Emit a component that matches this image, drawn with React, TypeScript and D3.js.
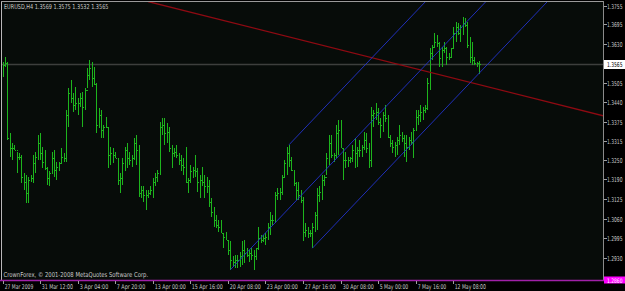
import React from 'react';
import * as d3 from 'd3';

const W = 625;
const H = 291;

// OHLC values (EURUSD, H4)
const opens = [
  1.3546, 1.3562, 1.3568, 1.3324, 1.3291, 1.3291, 1.3285, 1.3263, 1.3263, 1.3197,
  1.3181, 1.3143, 1.3186, 1.3192, 1.3242, 1.3263, 1.3307, 1.3275, 1.3246, 1.3225,
  1.3192, 1.3208, 1.3257, 1.3219, 1.3230, 1.3242, 1.3263, 1.3257, 1.3399, 1.3471,
  1.3455, 1.3432, 1.3438, 1.3438, 1.3455, 1.3426, 1.3481, 1.3530, 1.3553, 1.3519,
  1.3500, 1.3366, 1.3399, 1.3350, 1.3361, 1.3361, 1.3268, 1.3275, 1.3268, 1.3258,
  1.3186, 1.3192, 1.3242, 1.3285, 1.3257, 1.3252, 1.3257, 1.3307, 1.3285, 1.3143,
  1.3154, 1.3137, 1.3137, 1.3143, 1.3154, 1.3181, 1.3197, 1.3208, 1.3361, 1.3366,
  1.3339, 1.3344, 1.3291, 1.3275, 1.3279, 1.3268, 1.3252, 1.3235, 1.3230, 1.3181,
  1.3186, 1.3214, 1.3219, 1.3214, 1.3181, 1.3186, 1.3181, 1.3165, 1.3165, 1.3115,
  1.3083, 1.3056, 1.3039, 1.3034, 1.3012, 1.3001, 1.2990, 1.2958, 1.2925, 1.2918,
  1.2925, 1.2925, 1.2936, 1.2958, 1.2948, 1.2941, 1.2948, 1.2941, 1.2936, 1.2963,
  1.2996, 1.2990, 1.2996, 1.3001, 1.3034, 1.3056, 1.3056, 1.3137, 1.3143, 1.3148,
  1.3197, 1.3242, 1.3275, 1.3252, 1.3219, 1.3176, 1.3154, 1.3137, 1.3121, 1.3017,
  1.3023, 1.3012, 1.3012, 1.3034, 1.3072, 1.3137, 1.3148, 1.3186, 1.3197, 1.3257,
  1.3307, 1.3268, 1.3268, 1.3339, 1.3350, 1.3290, 1.3252, 1.3252, 1.3252, 1.3257,
  1.3285, 1.3275, 1.3285, 1.3285, 1.3295, 1.3317, 1.3291, 1.3252, 1.3399, 1.3405,
  1.3410, 1.3377, 1.3366, 1.3399, 1.3388, 1.3328, 1.3307, 1.3295, 1.3301, 1.3317,
  1.3334, 1.3323, 1.3307, 1.3295, 1.3317, 1.3312, 1.3350, 1.3393, 1.3399, 1.3410,
  1.3415, 1.3421, 1.3503, 1.3601, 1.3622, 1.3639, 1.3634, 1.3584, 1.3612, 1.3617,
  1.3590, 1.3590, 1.3617, 1.3666, 1.3688, 1.3666, 1.3688, 1.3699, 1.3693, 1.3628,
  1.3590, 1.3579, 1.3568, 1.3569,
];

const highs = [
  1.3573, 1.3590, 1.3573, 1.3340, 1.3308, 1.3301, 1.3279, 1.3275, 1.3268, 1.3209,
  1.3203, 1.3197, 1.3203, 1.3268, 1.3279, 1.3334, 1.3340, 1.3295, 1.3285, 1.3230,
  1.3214, 1.3279, 1.3285, 1.3246, 1.3246, 1.3291, 1.3275, 1.3415, 1.3487, 1.3513,
  1.3471, 1.3491, 1.3455, 1.3471, 1.3475, 1.3487, 1.3553, 1.3579, 1.3573, 1.3557,
  1.3503, 1.3422, 1.3415, 1.3366, 1.3393, 1.3361, 1.3295, 1.3291, 1.3279, 1.3258,
  1.3209, 1.3258, 1.3295, 1.3307, 1.3279, 1.3268, 1.3324, 1.3334, 1.3301, 1.3165,
  1.3165, 1.3154, 1.3154, 1.3165, 1.3192, 1.3208, 1.3219, 1.3377, 1.3388, 1.3388,
  1.3372, 1.3361, 1.3301, 1.3291, 1.3301, 1.3275, 1.3268, 1.3258, 1.3295, 1.3192,
  1.3235, 1.3230, 1.3268, 1.3225, 1.3203, 1.3230, 1.3203, 1.3197, 1.3186, 1.3127,
  1.3099, 1.3072, 1.3056, 1.3056, 1.3012, 1.3017, 1.2985, 1.2985, 1.2936, 1.2941,
  1.2941, 1.2952, 1.2985, 1.2990, 1.2964, 1.2958, 1.2964, 1.2958, 1.2964, 1.3034,
  1.3007, 1.3007, 1.3013, 1.3045, 1.3083, 1.3072, 1.3148, 1.3159, 1.3159, 1.3203,
  1.3252, 1.3295, 1.3301, 1.3263, 1.3219, 1.3181, 1.3181, 1.3154, 1.3132, 1.3045,
  1.3034, 1.3023, 1.3045, 1.3083, 1.3159, 1.3165, 1.3203, 1.3203, 1.3274, 1.3334,
  1.3334, 1.3275, 1.3366, 1.3383, 1.3383, 1.3290, 1.3279, 1.3263, 1.3263, 1.3301,
  1.3324, 1.3295, 1.3317, 1.3301, 1.3344, 1.3339, 1.3307, 1.3426, 1.3415, 1.3437,
  1.3421, 1.3388, 1.3410, 1.3432, 1.3399, 1.3334, 1.3317, 1.3312, 1.3328, 1.3366,
  1.3344, 1.3334, 1.3334, 1.3328, 1.3344, 1.3355, 1.3415, 1.3415, 1.3432, 1.3426,
  1.3432, 1.3519, 1.3617, 1.3628, 1.3666, 1.3661, 1.3639, 1.3622, 1.3639, 1.3622,
  1.3601, 1.3617, 1.3688, 1.3704, 1.3699, 1.3693, 1.3720, 1.3715, 1.3704, 1.3655,
  1.3639, 1.3590, 1.3573, 1.3575,
];

const lows = [
  1.3524, 1.3557, 1.3317, 1.3262, 1.3252, 1.3285, 1.3209, 1.3252, 1.3177, 1.3154,
  1.3112, 1.3112, 1.3181, 1.3177, 1.3208, 1.3252, 1.3252, 1.3225, 1.3219, 1.3170,
  1.3165, 1.3208, 1.3197, 1.3186, 1.3214, 1.3242, 1.3246, 1.3246, 1.3361, 1.3438,
  1.3410, 1.3415, 1.3399, 1.3426, 1.3361, 1.3415, 1.3487, 1.3513, 1.3491, 1.3497,
  1.3340, 1.3356, 1.3324, 1.3324, 1.3355, 1.3225, 1.3235, 1.3242, 1.3257, 1.3170,
  1.3143, 1.3170, 1.3214, 1.3226, 1.3235, 1.3230, 1.3252, 1.3235, 1.3132, 1.3127,
  1.3115, 1.3088, 1.3128, 1.3137, 1.3127, 1.3165, 1.3181, 1.3203, 1.3334, 1.3301,
  1.3306, 1.3279, 1.3225, 1.3263, 1.3257, 1.3235, 1.3214, 1.3203, 1.3176, 1.3143,
  1.3176, 1.3192, 1.3197, 1.3148, 1.3127, 1.3165, 1.3127, 1.3143, 1.3099, 1.3066,
  1.3034, 1.3029, 1.3017, 1.3012, 1.2963, 1.2990, 1.2941, 1.2892, 1.2903, 1.2898,
  1.2899, 1.2903, 1.2908, 1.2915, 1.2935, 1.2918, 1.2925, 1.2892, 1.2925, 1.2958,
  1.2980, 1.2984, 1.2974, 1.2990, 1.3007, 1.3039, 1.3045, 1.3121, 1.3121, 1.3137,
  1.3197, 1.3203, 1.3230, 1.3214, 1.3165, 1.3121, 1.3121, 1.3110, 1.2985, 1.3001,
  1.2996, 1.3001, 1.2963, 1.3017, 1.3023, 1.3115, 1.3121, 1.3165, 1.3203, 1.3235,
  1.3257, 1.3246, 1.3257, 1.3268, 1.3290, 1.3186, 1.3225, 1.3230, 1.3241, 1.3246,
  1.3225, 1.3230, 1.3263, 1.3263, 1.3285, 1.3274, 1.3225, 1.3230, 1.3361, 1.3383,
  1.3366, 1.3323, 1.3344, 1.3377, 1.3323, 1.3295, 1.3274, 1.3263, 1.3268, 1.3301,
  1.3312, 1.3263, 1.3246, 1.3285, 1.3301, 1.3257, 1.3350, 1.3366, 1.3377, 1.3383,
  1.3405, 1.3415, 1.3481, 1.3579, 1.3617, 1.3622, 1.3557, 1.3557, 1.3601, 1.3562,
  1.3579, 1.3584, 1.3617, 1.3639, 1.3661, 1.3639, 1.3661, 1.3688, 1.3617, 1.3568,
  1.3562, 1.3562, 1.3557, 1.3532,
];

const closes = [
  1.3562, 1.3568, 1.3324, 1.3291, 1.3291, 1.3285, 1.3263, 1.3263, 1.3197, 1.3181,
  1.3143, 1.3186, 1.3192, 1.3242, 1.3263, 1.3307, 1.3275, 1.3246, 1.3225, 1.3192,
  1.3208, 1.3257, 1.3219, 1.3230, 1.3242, 1.3263, 1.3257, 1.3399, 1.3471, 1.3455,
  1.3432, 1.3438, 1.3438, 1.3455, 1.3426, 1.3481, 1.3530, 1.3553, 1.3519, 1.3500,
  1.3366, 1.3399, 1.3350, 1.3361, 1.3361, 1.3268, 1.3275, 1.3268, 1.3258, 1.3186,
  1.3192, 1.3242, 1.3285, 1.3257, 1.3252, 1.3257, 1.3307, 1.3285, 1.3143, 1.3154,
  1.3137, 1.3137, 1.3143, 1.3154, 1.3181, 1.3197, 1.3208, 1.3361, 1.3366, 1.3339,
  1.3344, 1.3291, 1.3275, 1.3279, 1.3268, 1.3252, 1.3235, 1.3230, 1.3181, 1.3186,
  1.3214, 1.3219, 1.3214, 1.3181, 1.3186, 1.3181, 1.3165, 1.3165, 1.3115, 1.3083,
  1.3056, 1.3039, 1.3034, 1.3012, 1.3001, 1.2990, 1.2958, 1.2925, 1.2918, 1.2925,
  1.2925, 1.2936, 1.2958, 1.2948, 1.2941, 1.2948, 1.2941, 1.2936, 1.2963, 1.2996,
  1.2990, 1.2996, 1.3001, 1.3034, 1.3056, 1.3056, 1.3137, 1.3143, 1.3148, 1.3197,
  1.3242, 1.3275, 1.3252, 1.3219, 1.3176, 1.3154, 1.3137, 1.3121, 1.3017, 1.3023,
  1.3012, 1.3012, 1.3034, 1.3072, 1.3137, 1.3148, 1.3186, 1.3197, 1.3257, 1.3307,
  1.3268, 1.3268, 1.3339, 1.3350, 1.3290, 1.3252, 1.3252, 1.3252, 1.3257, 1.3285,
  1.3275, 1.3285, 1.3285, 1.3295, 1.3317, 1.3291, 1.3252, 1.3399, 1.3405, 1.3410,
  1.3377, 1.3366, 1.3399, 1.3388, 1.3328, 1.3307, 1.3295, 1.3301, 1.3317, 1.3334,
  1.3323, 1.3307, 1.3295, 1.3317, 1.3312, 1.3350, 1.3393, 1.3399, 1.3410, 1.3415,
  1.3421, 1.3503, 1.3601, 1.3622, 1.3639, 1.3634, 1.3584, 1.3612, 1.3617, 1.3590,
  1.3590, 1.3617, 1.3666, 1.3688, 1.3666, 1.3688, 1.3699, 1.3693, 1.3628, 1.3590,
  1.3579, 1.3568, 1.3569, 1.3565,
];

const timeLabels = [
  '27 Mar 2009', '31 Mar 12:00', '3 Apr 04:00', '7 Apr 20:00', '13 Apr 00:00',
  '15 Apr 16:00', '20 Apr 08:00', '23 Apr 00:00', '27 Apr 16:00', '30 Apr 08:00',
  '5 May 00:00', '7 May 16:00', '12 May 08:00',
];
const barsPerTimeLabel = 16;

const priceTicks = [
  1.3755, 1.3695, 1.363, 1.3505, 1.344, 1.3375, 1.3315, 1.325, 1.319, 1.3125,
  1.306, 1.2995, 1.293,
];
const currentPrice = 1.3565;
const bottomLinePrice = 1.286;

const headerText = 'EURUSD,H4  1.3569 1.3575 1.3532 1.3565';
const footerText = 'CrownForex, \u00a9 2001-2008 MetaQuotes Software Corp.';

// drawn objects (bar index, price)
const trendLine = [
  { i: 62, p: 1.377 },
  { i: 200, p: 1.3504 },
];
const channelMid = [
  { i: 97, p: 1.2892 },
  { i: 180, p: 1.3561 },
];
const channelUpperStart = { i: 122, p: 1.3301 };
const channelLowerStart = { i: 132, p: 1.2963 };

const PL = 1;
const PT = 1;
const PR = 603;
const PB = 280;
const VISIBLE_BARS = 256;
const FONT = "'DejaVu Sans', sans-serif";

let measureCtx: CanvasRenderingContext2D | null = null;
function measure(text: string, size: number): number {
  if (!measureCtx && typeof document !== 'undefined') {
    measureCtx = document.createElement('canvas').getContext('2d');
  }
  if (!measureCtx) return text.length * size * 0.6;
  measureCtx.font = `${size}px 'DejaVu Sans'`;
  return measureCtx.measureText(text).width;
}

function FitText(props: { x: number; y: number; w: number; size: number; fill: string; text: string }) {
  const { x, y, w, size, fill, text } = props;
  const nat = measure(text, size);
  const sx = nat > 0 ? w / nat : 1;
  return (
    <text transform={`translate(${x},${y}) scale(${sx},1)`} fill={fill} fontFamily={FONT} fontSize={size}>
      {text}
    </text>
  );
}

export default function App() {
  const x = d3.scaleLinear().domain([0, VISIBLE_BARS]).range([2.5, 603.5]);
  const y = d3.scaleLinear().domain([1.2859, 1.3775]).range([PB, 0]);
  const line = d3
    .line<{ i: number; p: number }>()
    .x((d) => x(d.i))
    .y((d) => y(d.p));

  const ray = (start: { i: number; p: number }, slope: number) => [
    start,
    { i: VISIBLE_BARS + 2, p: start.p + slope * (VISIBLE_BARS + 2 - start.i) },
  ];
  const trendSlope = (trendLine[1].p - trendLine[0].p) / (trendLine[1].i - trendLine[0].i);
  const chSlope = (channelMid[1].p - channelMid[0].p) / (channelMid[1].i - channelMid[0].i);

  const textColor = '#c8c8c8';
  const barColor = '#1db41d';

  const bars = opens.map((o, i) => {
    const cx = Math.round(x(i)) + 0.5;
    const oy = Math.round(y(o)) + 0.5;
    const cy = Math.round(y(closes[i])) + 0.5;
    return (
      <g key={i}>
        <line x1={cx} x2={cx} y1={y(highs[i])} y2={y(lows[i])} />
        <line x1={cx - 1} x2={cx} y1={oy} y2={oy} />
        <line x1={cx} x2={cx + 1} y1={cy} y2={cy} />
      </g>
    );
  });

  const curY = Math.round(y(currentPrice)) + 0.5;
  const botY = Math.round(y(bottomLinePrice)) + 0.5;
  const fmt = d3.format('.4f');

  return (
    <>
      <style>{`html,body{margin:0;padding:0;background:#000;}`}</style>
      <svg width={W} height={H} style={{ display: 'block', background: '#000000' }}>
        <defs>
          <clipPath id="plotClip">
            <rect x={PL} y={PT} width={PR - PL} height={PB - PT} />
          </clipPath>
        </defs>
        <rect x={0} y={0} width={W} height={H} fill="#000000" />
        <rect x={PL} y={PT} width={PR - PL} height={PB - PT} fill="#070c09" />

        {/* bid line */}
        <line x1={PL} x2={PR} y1={curY} y2={curY} stroke="#3d3f3d" strokeWidth={1.6} />

        {/* bars */}
        <g clipPath="url(#plotClip)" stroke={barColor} strokeWidth={1} shapeRendering="crispEdges">
          {bars}
        </g>

        {/* objects */}
        <g clipPath="url(#plotClip)" fill="none">
          <path d={line(ray(trendLine[0], trendSlope)) || ''} stroke="#8e0a12" strokeWidth={1.3} />
          <path d={line(ray(channelMid[0], chSlope)) || ''} stroke="#2233cc" strokeWidth={0.9} />
          <path d={line(ray(channelUpperStart, chSlope)) || ''} stroke="#2233cc" strokeWidth={0.9} />
          <path d={line(ray(channelLowerStart, chSlope)) || ''} stroke="#2233cc" strokeWidth={0.9} />
        </g>

        {/* frame */}
        <line x1={PL + 0.5} x2={PL + 0.5} y1={PT} y2={PB} stroke="#b8b8b8" strokeWidth={1} />
        <line x1={PL} x2={PR} y1={PT + 0.5} y2={PT + 0.5} stroke="#9a9a9a" strokeWidth={1} />
        <line x1={PR + 0.5} x2={PR + 0.5} y1={PT} y2={PB + 1} stroke="#8a8a8a" strokeWidth={1} />
        <line x1={0} x2={PR + 1} y1={botY} y2={botY} stroke="#a020a8" strokeWidth={1.4} />

        {/* header + footer */}
        <FitText x={4} y={9} w={106} size={6.8} fill={textColor} text={headerText} />
        <FitText x={3.5} y={277} w={145} size={6.8} fill={textColor} text={footerText} />

        {/* price axis */}
        {priceTicks.map((p) => {
          const ty = Math.round(y(p)) + 0.5;
          return (
            <g key={p}>
              <line x1={PR + 1} x2={PR + 4} y1={ty} y2={ty} stroke="#a0a0a0" />
              <FitText x={607} y={ty + 2.4} w={15.5} size={6.6} fill={textColor} text={fmt(p)} />
            </g>
          );
        })}
        <rect x={PR + 1} y={curY - 4.5} width={W - PR - 1} height={9} fill="#ffffff" />
        <FitText x={607} y={curY + 2.4} w={15.5} size={6.6} fill="#000000" text={fmt(currentPrice)} />
        <rect x={PR + 1} y={botY - 4} width={W - PR - 1} height={7} fill="#ff00ff" />
        <FitText x={607} y={botY + 2.2} w={15.5} size={6.2} fill="#ffffff" text={fmt(bottomLinePrice)} />

        {/* time axis */}
        {timeLabels.map((t, k) => {
          const tx = Math.round(x(k * barsPerTimeLabel)) + 0.5;
          return (
            <g key={t}>
              <line x1={tx} x2={tx} y1={PB + 1} y2={PB + 4} stroke="#a0a0a0" />
              <FitText x={tx + 1.2} y={288.5} w={t.length * 2.6} size={6.6} fill={textColor} text={t} />
            </g>
          );
        })}
      </svg>
    </>
  );
}
